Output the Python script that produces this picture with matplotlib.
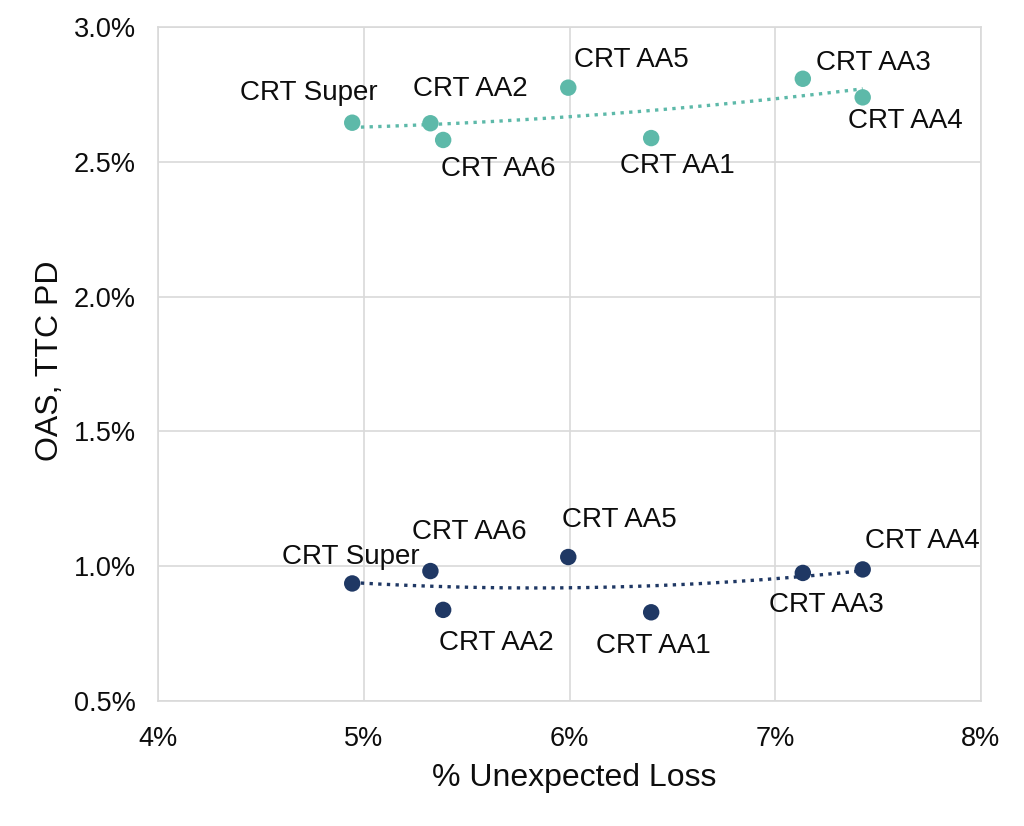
import numpy as np
import matplotlib
matplotlib.use("Agg")
import matplotlib.pyplot as plt
from matplotlib.ticker import FuncFormatter

plt.rcParams['font.family'] = ['Liberation Sans', 'DejaVu Sans']

# ---- data ----
top_labels = ["CRT Super", "CRT AA2", "CRT AA6", "CRT AA5", "CRT AA1", "CRT AA3", "CRT AA4"]
top_x = [4.944, 5.324, 5.386, 5.994, 6.397, 7.134, 7.425]
top_y = [2.645, 2.643, 2.581, 2.775, 2.588, 2.808, 2.739]

bot_labels = ["CRT Super", "CRT AA6", "CRT AA2", "CRT AA5", "CRT AA1", "CRT AA3", "CRT AA4"]
bot_x = [4.944, 5.324, 5.386, 5.994, 6.397, 7.134, 7.425]
bot_y = [0.936, 0.982, 0.838, 1.034, 0.829, 0.975, 0.988]

x_ticks = [4, 5, 6, 7, 8]
y_ticks = [0.5, 1.0, 1.5, 2.0, 2.5, 3.0]

# label offsets in pixels (dx, dy) from each point, label centred
top_off = [(-43, 30), (40, 34), (55, -29), (63, 28), (26, -28), (71, 16), (43, -24)]
bot_off = [(-1, 26), (39, 39), (53, -33), (51, 37), (2, -34), (24, -32), (60, 28)]

teal = "#5DB9A9"
navy = "#1F3864"
txt = "#0D0D0D"

fig = plt.figure(figsize=(10.24, 8.26), dpi=100)
ax = fig.add_axes([158/1024, 1-701/826, (981-158)/1024, (701-27)/826])

ax.set_xlim(4, 8)
ax.set_ylim(0.5, 3.0)
ax.set_xticks(x_ticks)
ax.set_yticks(y_ticks)
ax.xaxis.set_major_formatter(FuncFormatter(lambda v, p: f"{v:.0f}%"))
ax.yaxis.set_major_formatter(FuncFormatter(lambda v, p: f"{v:.1f}%"))
ax.grid(True, color="#D9D9D9", linewidth=1.2)
ax.set_axisbelow(True)
for s in ax.spines.values():
    s.set_color("#D9D9D9")
    s.set_linewidth(1.2)
ax.tick_params(length=0, labelsize=19.5, colors=txt)
ax.tick_params(axis='x', pad=18)
ax.tick_params(axis='y', pad=16)

for xs, ys, labs, offs, col in [(top_x, top_y, top_labels, top_off, teal),
                                (bot_x, bot_y, bot_labels, bot_off, navy)]:
    c = np.polyfit(xs, ys, 2)
    xx = np.linspace(min(xs), max(xs), 200)
    ax.plot(xx, np.polyval(c, xx), linestyle=(0, (1, 1.6)), color=col, linewidth=2.4, zorder=2)
    ax.scatter(xs, ys, s=140, color=col, zorder=3, edgecolors='none')
    for x, y, t, (dx, dy) in zip(xs, ys, labs, offs):
        ax.annotate(t, (x, y), xytext=(dx, dy), textcoords='offset pixels',
                    ha='center', va='center', fontsize=20, color=txt)

ax.set_xlabel("% Unexpected Loss", fontsize=23, color=txt, va='center')
ax.set_ylabel("OAS, TTC PD", fontsize=23, color=txt, va='center')
ax.xaxis.set_label_coords((574-158)/823, (701-778)/674)
ax.yaxis.set_label_coords((50-158)/823, (701-361)/674)

fig.savefig("out.png", dpi=100)
